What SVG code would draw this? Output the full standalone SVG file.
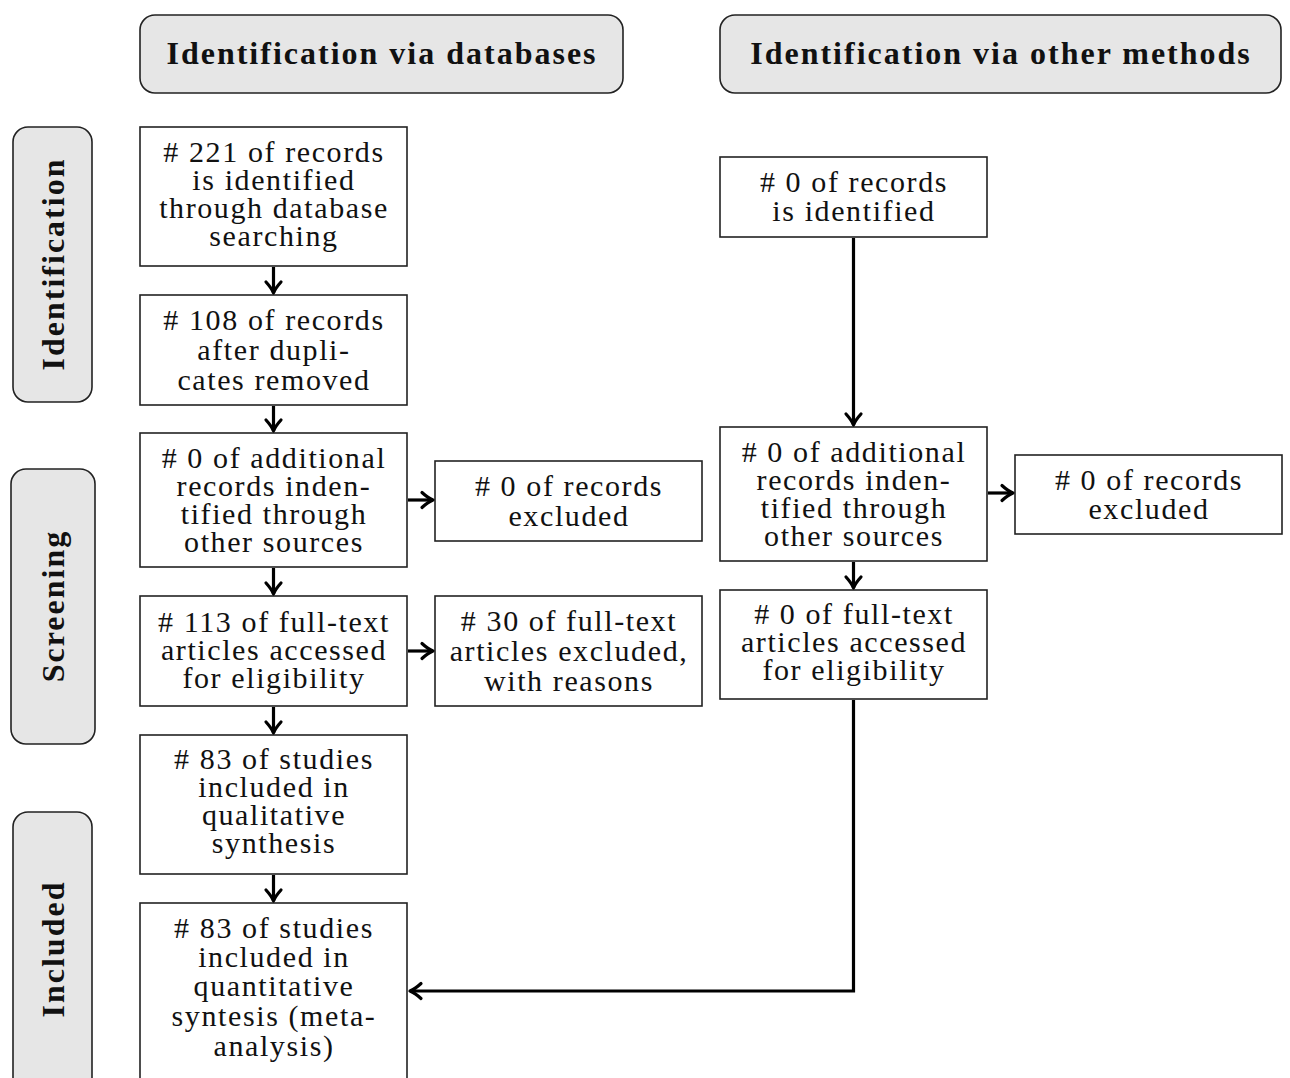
<svg xmlns="http://www.w3.org/2000/svg" width="1290" height="1078" viewBox="0 0 1290 1078">
<style>
.hdr{fill:#e6e6e6;stroke:#222;stroke-width:1.6}
.box{fill:#fff;stroke:#222;stroke-width:1.6}
.t{font-family:"Liberation Serif","Times New Roman",serif;font-size:30px;letter-spacing:1.6px;fill:#111;text-anchor:middle}
.b{font-family:"Liberation Serif","Times New Roman",serif;font-size:32px;font-weight:bold;letter-spacing:2px;fill:#111;text-anchor:middle}
.c{fill:none;stroke:#000;stroke-width:3.2}
</style>
<defs>
<marker id="ah" markerUnits="userSpaceOnUse" viewBox="-13 -9 15 18" refX="0" refY="0" markerWidth="15" markerHeight="18" orient="auto" overflow="visible">
<path d="M-11,-7.5 Q-5,-2 0,0 Q-5,2 -11,7.5" fill="none" stroke="#000" stroke-width="3.2" stroke-linecap="round" stroke-linejoin="round"/>
</marker>
</defs>
<rect width="1290" height="1078" fill="#fff"/>

<g id="header-databases">
<rect class="hdr" x="140" y="15" width="483" height="78" rx="15"/>
<text class="b" x="382" y="64">Identification via databases</text>
</g>
<g id="header-other">
<rect class="hdr" x="720" y="15" width="561" height="78" rx="15"/>
<text class="b" x="1001" y="64">Identification via other methods</text>
</g>

<g id="phase-identification">
<rect class="hdr" x="13" y="127" width="79" height="275" rx="15"/>
<text class="b" transform="translate(64,264) rotate(-90)">Identification</text>
</g>
<g id="phase-screening">
<rect class="hdr" x="11" y="469" width="84" height="275" rx="15"/>
<text class="b" transform="translate(64,606) rotate(-90)">Screening</text>
</g>
<g id="phase-included">
<rect class="hdr" x="13" y="812" width="79" height="290" rx="15"/>
<text class="b" transform="translate(64,949) rotate(-90)">Included</text>
</g>

<g id="db-identified">
<rect class="box" x="140" y="127" width="267" height="139"/>
<text class="t"><tspan x="274" y="162"># 221 of records</tspan><tspan x="274" y="190">is identified</tspan><tspan x="274" y="218">through database</tspan><tspan x="274" y="246">searching</tspan></text>
</g>
<g id="db-dedup">
<rect class="box" x="140" y="295" width="267" height="110"/>
<text class="t"><tspan x="274" y="330"># 108 of records</tspan><tspan x="274" y="360">after dupli-</tspan><tspan x="274" y="390">cates removed</tspan></text>
</g>
<g id="db-additional">
<rect class="box" x="140" y="433" width="267" height="134"/>
<text class="t"><tspan x="274" y="468"># 0 of additional</tspan><tspan x="274" y="496">records inden-</tspan><tspan x="274" y="524">tified through</tspan><tspan x="274" y="552">other sources</tspan></text>
</g>
<g id="db-excluded">
<rect class="box" x="435" y="461" width="267" height="80"/>
<text class="t"><tspan x="569" y="496"># 0 of records</tspan><tspan x="569" y="526">excluded</tspan></text>
</g>
<g id="db-fulltext">
<rect class="box" x="140" y="596" width="267" height="110"/>
<text class="t"><tspan x="274" y="632"># 113 of full-text</tspan><tspan x="274" y="660">articles accessed</tspan><tspan x="274" y="688">for eligibility</tspan></text>
</g>
<g id="db-fulltext-excluded">
<rect class="box" x="435" y="596" width="267" height="110"/>
<text class="t"><tspan x="569" y="631"># 30 of full-text</tspan><tspan x="569" y="661">articles excluded,</tspan><tspan x="569" y="691">with reasons</tspan></text>
</g>
<g id="db-qualitative">
<rect class="box" x="140" y="735" width="267" height="139"/>
<text class="t"><tspan x="274" y="769"># 83 of studies</tspan><tspan x="274" y="797">included in</tspan><tspan x="274" y="825">qualitative</tspan><tspan x="274" y="853">synthesis</tspan></text>
</g>
<g id="db-quantitative">
<rect class="box" x="140" y="903" width="267" height="185"/>
<text class="t"><tspan x="274" y="938"># 83 of studies</tspan><tspan x="274" y="967">included in</tspan><tspan x="274" y="996">quantitative</tspan><tspan x="274" y="1026">syntesis (meta-</tspan><tspan x="274" y="1056">analysis)</tspan></text>
</g>

<g id="other-identified">
<rect class="box" x="720" y="157" width="267" height="80"/>
<text class="t"><tspan x="854" y="192"># 0 of records</tspan><tspan x="854" y="221">is identified</tspan></text>
</g>
<g id="other-additional">
<rect class="box" x="720" y="427" width="267" height="134"/>
<text class="t"><tspan x="854" y="462"># 0 of additional</tspan><tspan x="854" y="490">records inden-</tspan><tspan x="854" y="518">tified through</tspan><tspan x="854" y="546">other sources</tspan></text>
</g>
<g id="other-excluded">
<rect class="box" x="1015" y="455" width="267" height="79"/>
<text class="t"><tspan x="1149" y="490"># 0 of records</tspan><tspan x="1149" y="519">excluded</tspan></text>
</g>
<g id="other-fulltext">
<rect class="box" x="720" y="590" width="267" height="109"/>
<text class="t"><tspan x="854" y="624"># 0 of full-text</tspan><tspan x="854" y="652">articles accessed</tspan><tspan x="854" y="680">for eligibility</tspan></text>
</g>

<g id="connectors">
<path class="c" marker-end="url(#ah)" d="M273.5,267 V293"/>
<path class="c" marker-end="url(#ah)" d="M273.5,406 V431"/>
<path class="c" marker-end="url(#ah)" d="M408,500 H433"/>
<path class="c" marker-end="url(#ah)" d="M273.5,568 V594"/>
<path class="c" marker-end="url(#ah)" d="M408,651 H433"/>
<path class="c" marker-end="url(#ah)" d="M273.5,707 V733"/>
<path class="c" marker-end="url(#ah)" d="M273.5,875 V901"/>
<path class="c" marker-end="url(#ah)" d="M853.5,238 V425"/>
<path class="c" marker-end="url(#ah)" d="M988,493 H1013"/>
<path class="c" marker-end="url(#ah)" d="M853.5,562 V588"/>
<path class="c" marker-end="url(#ah)" d="M853.5,700 V991 H410"/>
</g>
</svg>
